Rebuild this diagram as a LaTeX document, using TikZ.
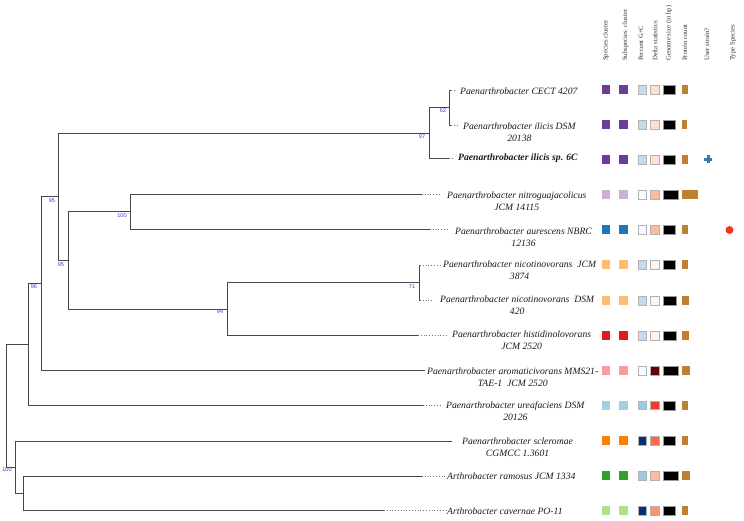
\documentclass[tikz,border=0pt]{standalone}
\usepackage{fontspec}
\setmainfont{Liberation Serif}
\newfontfamily\bootfont{Liberation Sans}

% cluster palette
\definecolor{cPurple}{HTML}{6A3D9A}
\definecolor{cLavender}{HTML}{CAB2D6}
\definecolor{cBlue}{HTML}{1F78B4}
\definecolor{cApricot}{HTML}{FDBF6F}
\definecolor{cRed}{HTML}{E31A1C}
\definecolor{cPink}{HTML}{FB9A99}
\definecolor{cSky}{HTML}{A6CEE3}
\definecolor{cOrange}{HTML}{FF7F00}
\definecolor{cGreen}{HTML}{33A02C}
\definecolor{cLime}{HTML}{B2DF8A}
% G+C scale
\definecolor{gA}{HTML}{F7FBFF}
\definecolor{gB}{HTML}{C6DBEF}
\definecolor{gC}{HTML}{9ECAE1}
\definecolor{gD}{HTML}{08306B}
% delta scale
\definecolor{dA}{HTML}{FFF5F0}
\definecolor{dB}{HTML}{FEE0D2}
\definecolor{dC}{HTML}{FCBBA1}
\definecolor{dD}{HTML}{FC9272}
\definecolor{dE}{HTML}{FB6A4A}
\definecolor{dF}{HTML}{EF3B2C}
\definecolor{dG}{HTML}{67000D}
\definecolor{cProt}{HTML}{BF812D}
\definecolor{cUser}{HTML}{2B7BBA}
\definecolor{cType}{HTML}{EE3524}
\definecolor{bootblue}{HTML}{3344CC}

\begin{document}
\begin{tikzpicture}[x=1bp,y={(0bp,-1bp)},
  branch/.style={draw=black!72,line width=0.9bp},
  trail/.style={draw=black!55,line width=0.7bp,dash pattern=on 0.7bp off 2.1bp},
  taxon/.style={anchor=west,inner sep=0pt,align=center,
    font=\fontsize{9.7}{12}\selectfont\itshape,text=black!90},
  boot/.style={inner sep=0pt,font=\bootfont\fontsize{5.6}{6}\selectfont,text=bootblue},
  colhead/.style={rotate=90,anchor=west,inner sep=0pt,
    font=\fontsize{6.8}{7}\selectfont,text=black!80},
  cell/.style={draw=black!30,line width=0.4bp},
]
\useasboundingbox (0,0) rectangle (744,521);

% ---------- internal nodes (x of the split, y of the stem) ----------
\coordinate (nR)   at (6,405.5);
\coordinate (n28)  at (28,344);
\coordinate (n41)  at (41,283);
\coordinate (n58)  at (58,196.5);
\coordinate (n429) at (429,133);
\coordinate (n449) at (449,107.5);
\coordinate (n68)  at (68,260.5);
\coordinate (n130) at (130,211.5);
\coordinate (n227) at (227,309);
\coordinate (n419) at (419,282.5);
\coordinate (n15)  at (15,467);
\coordinate (n23)  at (23,493);

% ---------- tips (end of the solid branch) ----------
\coordinate (t1)  at (451,90);
\coordinate (t2)  at (451,125);
\coordinate (t3)  at (449,158);
\coordinate (t4)  at (422,194);
\coordinate (t5)  at (430,229);
\coordinate (t6)  at (420,265);
\coordinate (t7)  at (420,300);
\coordinate (t8)  at (418,335);
\coordinate (t9)  at (425,370);
\coordinate (t10) at (423,405);
\coordinate (t11) at (452,441);
\coordinate (t12) at (422,476);
\coordinate (t13) at (384,510);

% ---------- ends of the dotted leaders ----------
\coordinate (d1)  at (454,90);
\coordinate (d2)  at (457,125);
\coordinate (d3)  at (453,158);
\coordinate (d4)  at (439,194);
\coordinate (d5)  at (448,229);
\coordinate (d6)  at (440,265);
\coordinate (d7)  at (434,300);
\coordinate (d8)  at (447,335);
\coordinate (d10) at (442,405);
\coordinate (d12) at (446,476);
\coordinate (d13) at (446,510);

% ---------- branches ----------
\draw[branch] (nR) |- (n28);
\draw[branch] (nR) |- (n15);
\draw[branch] (n28) |- (n41);
\draw[branch] (n28) |- (t10);
\draw[branch] (n41) |- (n58);
\draw[branch] (n41) |- (t9);
\draw[branch] (n58) |- (n429);
\draw[branch] (n58) |- (n68);
\draw[branch] (n429) |- (n449);
\draw[branch] (n429) |- (t3);
\draw[branch] (n449) |- (t1);
\draw[branch] (n449) |- (t2);
\draw[branch] (n68) |- (n130);
\draw[branch] (n68) |- (n227);
\draw[branch] (n130) |- (t4);
\draw[branch] (n130) |- (t5);
\draw[branch] (n227) |- (n419);
\draw[branch] (n227) |- (t8);
\draw[branch] (n419) |- (t6);
\draw[branch] (n419) |- (t7);
\draw[branch] (n15) |- (t11);
\draw[branch] (n15) |- (n23);
\draw[branch] (n23) |- (t12);
\draw[branch] (n23) |- (t13);

% ---------- dotted leaders ----------
\foreach \i in {1,2,3,4,5,6,7,8,10,12,13}
  \draw[trail] (t\i) -- (d\i);

% ---------- support values ----------
\node[boot] (b62)  at (443,111) {62};
\node[boot] (b97)  at (422,137) {97};
\node[boot] (b95a) at (52,201)  {95};
\node[boot] (b100a) at (122,216) {100};
\node[boot] (b95b) at (61,265)  {95};
\node[boot] (b96)  at (34,287)  {96};
\node[boot] (b94)  at (220,312) {94};
\node[boot] (b71)  at (412,287) {71};
\node[boot] (b100b) at (7,470)  {100};

% ---------- taxon labels ----------
\node[taxon] (L1)  at (460,91)  {Paenarthrobacter CECT 4207};
\node[taxon] (L2)  at (463,132) {Paenarthrobacter ilicis DSM\\20138};
\node[taxon] (L3)  at (458,158) {\bfseries Paenarthrobacter ilicis sp. 6C};
\node[taxon] (L4)  at (447,201) {Paenarthrobacter nitroguajacolicus\\JCM 14115};
\node[taxon] (L5)  at (455,237) {Paenarthrobacter aurescens NBRC\\12136};
\node[taxon] (L6)  at (443,270) {Paenarthrobacter nicotinovorans\ \ JCM\\3874};
\node[taxon] (L7)  at (440,305) {Paenarthrobacter nicotinovorans\ \ DSM\\420};
\node[taxon] (L8)  at (452,340) {Paenarthrobacter histidinolovorans\\JCM 2520};
\node[taxon] (L9)  at (427,377) {Paenarthrobacter aromaticivorans MMS21-\\TAE-1\ \ JCM 2520};
\node[taxon] (L10) at (446,411) {Paenarthrobacter ureafaciens DSM\\20126};
\node[taxon] (L11) at (462,447) {Paenarthrobacter scleromae\\CGMCC 1.3601};
\node[taxon] (L12) at (447,476) {Arthrobacter ramosus JCM 1334};
\node[taxon] (L13) at (447,511) {Arthrobacter cavernae PO-11};

% ---------- column headers ----------
\node[colhead] (h1) at (606,61)   {Species cluster};
\node[colhead] (h2) at (625.5,61) {Subspecies\ \ cluster};
\node[colhead] (h3) at (641,61)   {Percent G+C};
\node[colhead] (h4) at (655,61)   {Delta statistics};
\node[colhead] (h5) at (669,61)   {Genome size (in bp)};
\node[colhead] (h6) at (685,61)   {Protein count};
\node[colhead] (h7) at (707,61)   {User strain?};
\node[colhead] (h8) at (733,61)   {Type Species};

% ---------- metadata cells ----------
% row y / cluster colour / G+C colour / delta colour / genome bar width / protein bar width
\foreach \yy/\sp/\gc/\dl/\gw/\pw in {
   90/cPurple/gB/dB/11.7/6.5,
  124.7/cPurple/gB/dB/11.7/5,
  159.5/cPurple/gB/dB/11.7/6.5,
  194.7/cLavender/gA/dC/14.7/16,
  230/cBlue/gA/dC/12/6,
  264.7/cApricot/gB/dA/12/6.3,
  300.5/cApricot/gB/dA/13/7,
  335.7/cRed/gB/dA/12.7/7,
  370.7/cPink/gA/dG/14.3/7.7,
  405.3/cSky/gC/dF/12/6,
  440.7/cOrange/gD/dE/11.3/6,
  475.5/cGreen/gC/dC/15/7.7,
  510.7/cLime/gD/dD/11.3/6}{
  \fill[\sp] (601.5,\yy-4.5) rectangle ++(8.7,9);
  \fill[\sp] (619.3,\yy-4.5) rectangle ++(9,9);
  \filldraw[cell,fill=\gc] (637.8,\yy-4.3) rectangle ++(8.4,8.6);
  \filldraw[cell,fill=\dl] (650.6,\yy-4.3) rectangle ++(8.4,8.6);
  \filldraw[draw=black!40,line width=0.4bp,fill=black] (663.4,\yy-4.4) rectangle ++(\gw,8.8);
  \fill[cProt] (681.8,\yy-4.5) rectangle ++(\pw,9);
}

% user strain marker
\fill[cUser] (704,158) rectangle (712,161);
\fill[cUser] (706.5,155.5) rectangle (709.5,163.5);
% type species marker
\fill[cType] (729.5,230) circle (4);

\end{tikzpicture}
\end{document}
